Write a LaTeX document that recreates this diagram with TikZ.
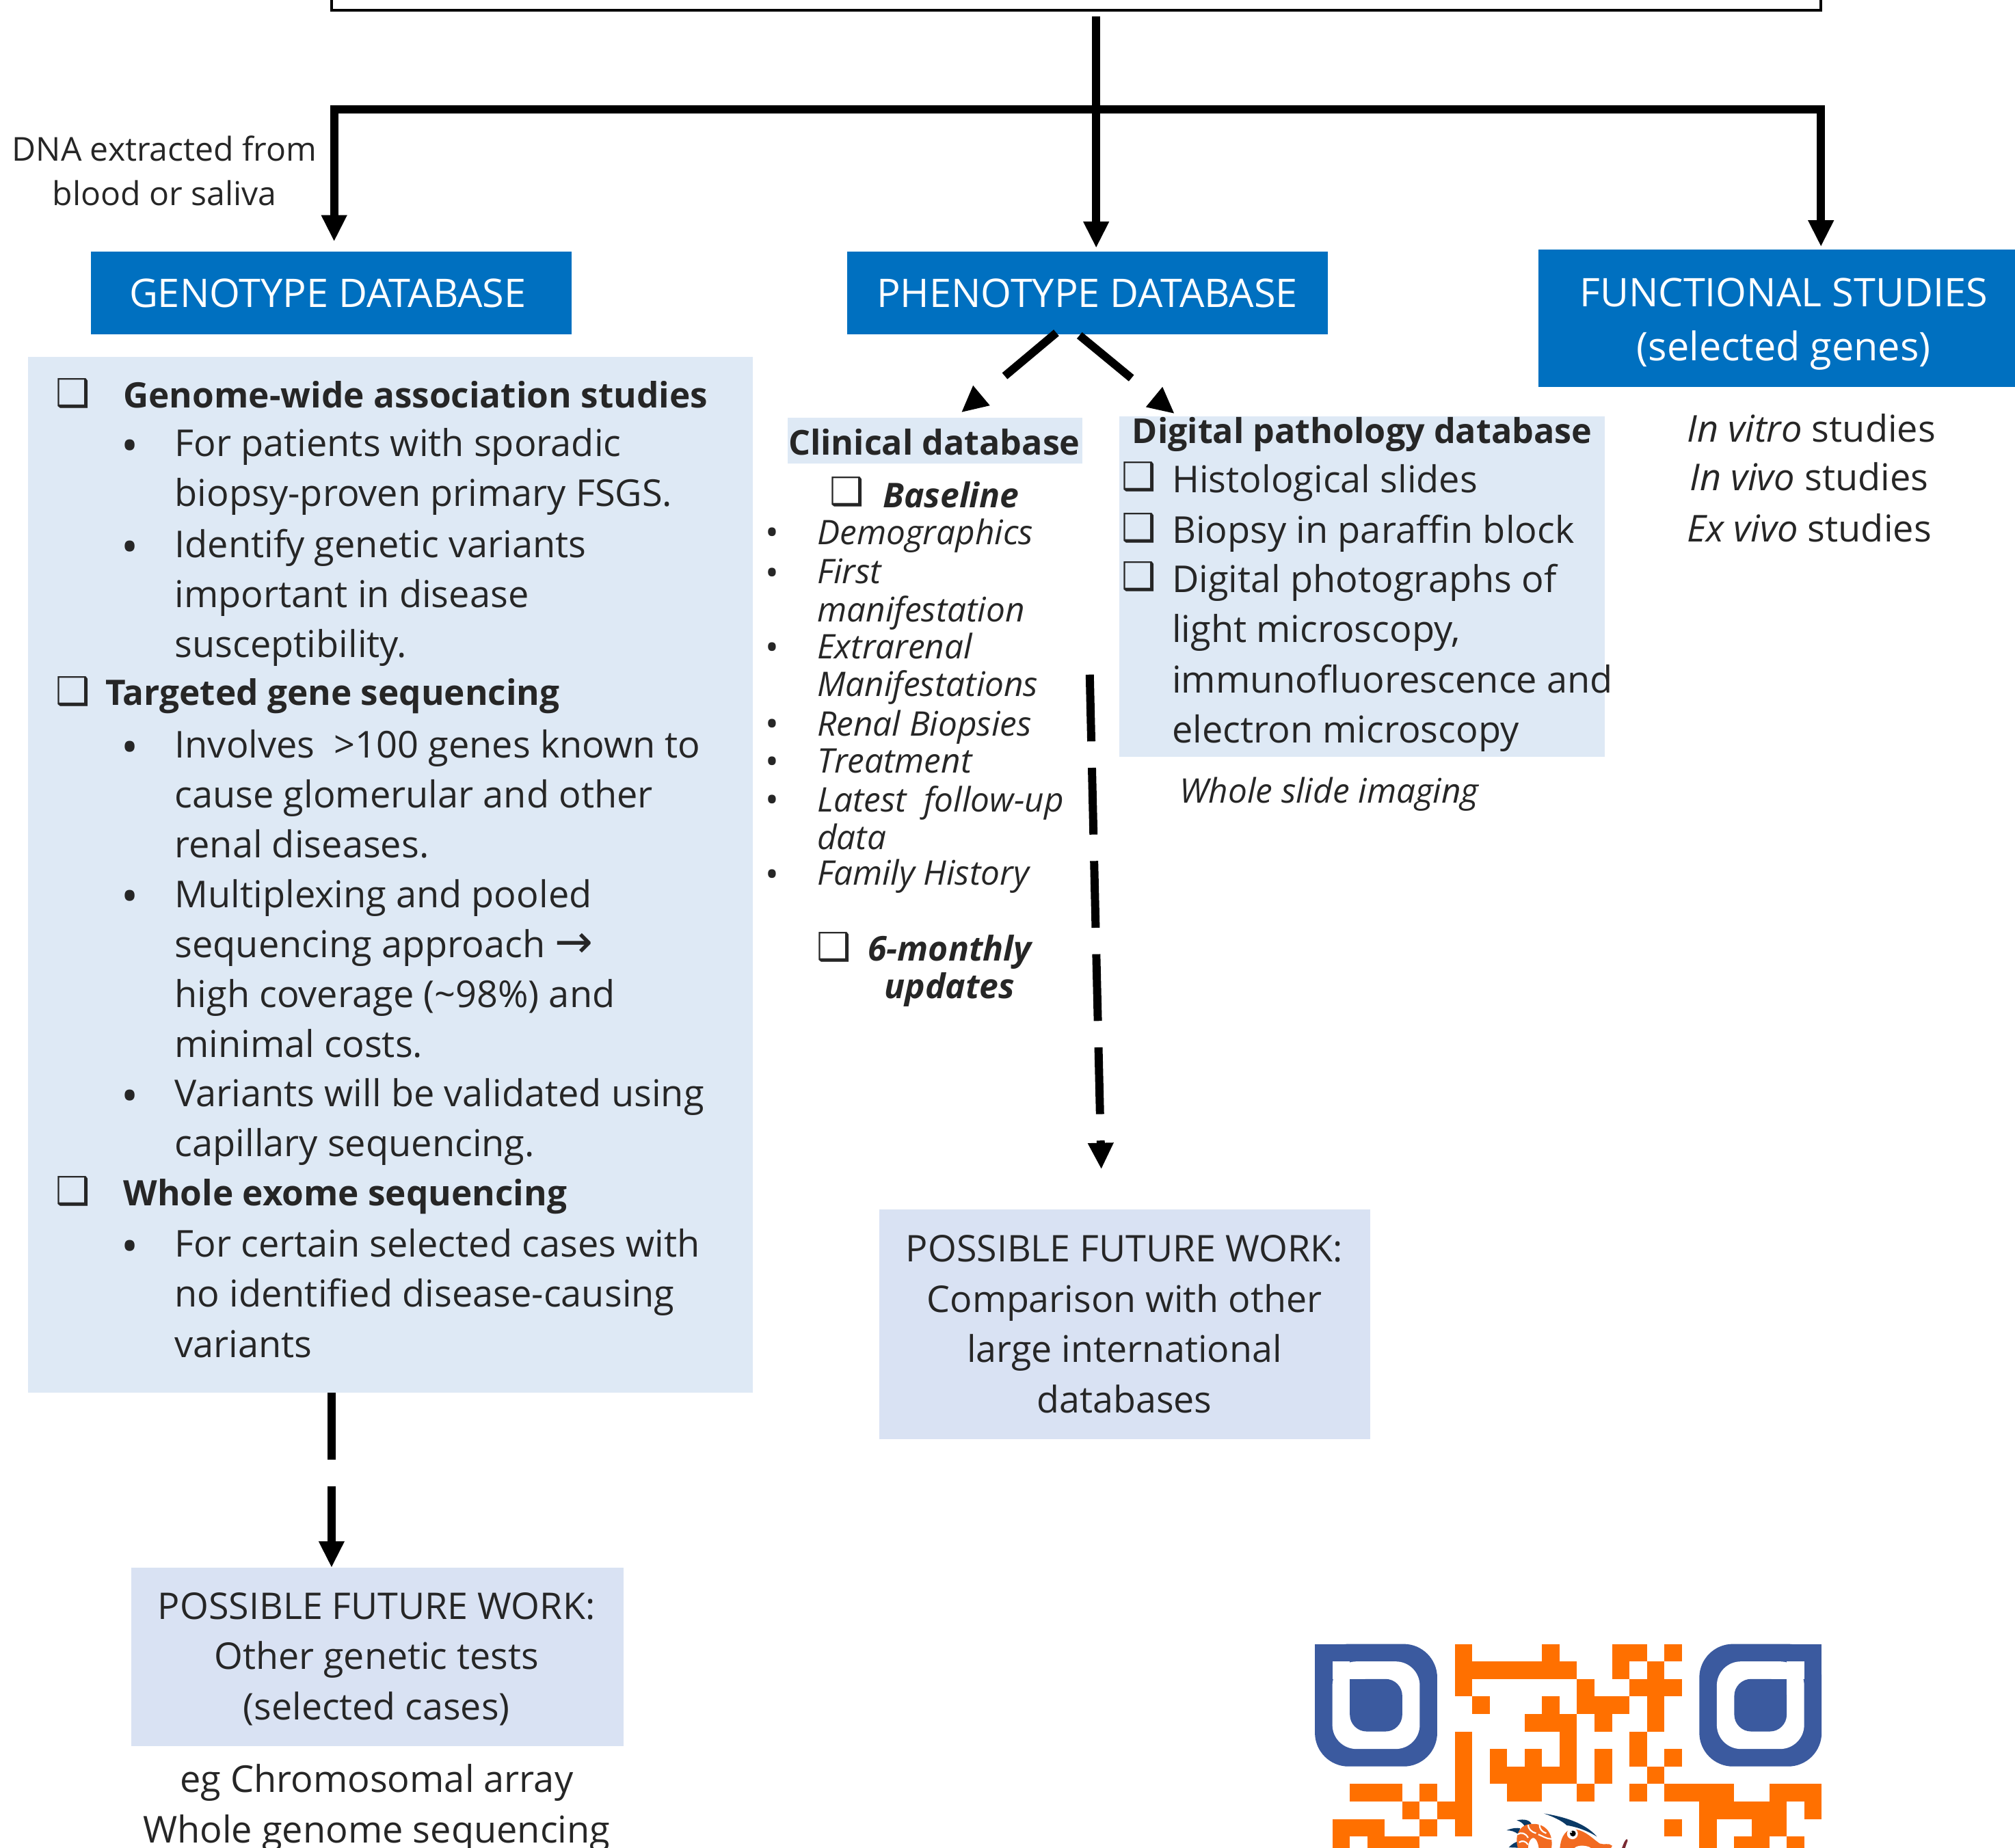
\documentclass[tikz,border=0pt]{standalone}
\usepackage{fontspec}
\setmainfont{Open Sans}
\newfontfamily\symfont{DejaVu Sans}
\usetikzlibrary{arrows.meta,fit,positioning,calc}
\definecolor{dbblue}{HTML}{0070C0}
\definecolor{listblue}{HTML}{DEE9F5}
\definecolor{futureblue}{HTML}{D9E2F3}
\definecolor{qrblue}{HTML}{3B5A9F}
\definecolor{qrorange}{HTML}{FF7000}
\definecolor{dragonbody}{HTML}{F26B21}
\definecolor{dragonnavy}{HTML}{0B3A66}
\definecolor{dragonred}{HTML}{7A2B33}

\begin{document}
\begin{tikzpicture}[x=0.018795cm, y=-0.018795cm, >={Triangle[length=11pt,width=10pt]},
  every node/.style={inner sep=0pt, outer sep=0pt, text=black!85},
  bar/.style={line width=3.4pt},
  dashbar/.style={line width=3.4pt, dash pattern=on 27.8pt off 11pt},
  dbbox/.style={fill=dbblue},
  dbtxt/.style={text=white, align=center, font=\fontsize{16.4}{22.5}\selectfont},
  listbox/.style={fill=listblue},
  futurebox/.style={fill=futureblue},
  futuretxt/.style={align=center, font=\fontsize{15.3}{20.9}\selectfont},
  txt/.style={anchor=west, align=left, font=\fontsize{15.4}{20.8}\selectfont},
  heading/.style={anchor=west, align=left, font=\fontsize{14.6}{20.8}\selectfont\bfseries},
  subhead/.style={font=\fontsize{14.3}{20.8}\selectfont\bfseries},
  small/.style={anchor=west, align=left, font=\fontsize{14.1}{15.8}\selectfont\itshape},
  bul/.style={yshift=-3pt, font=\fontsize{19}{19}\selectfont},
  bulsmall/.style={yshift=-2pt, font=\fontsize{15}{15}\selectfont},
  chk/.style={font=\symfont\bfseries\fontsize{16}{16}\selectfont}]
\useasboundingbox (0,0) rectangle (1568,1438);
\clip (0,0) rectangle (1568,1438);

\node[draw, line width=1.2pt, fit={(258,-40)(1417,8)}] (top) {};
\coordinate (topdrop) at (853,13);
\coordinate (split) at (853,85);

% three databases
\node[dbbox, fit={(71,196)(445,260)}] (geno) {};
\node[dbbox, fit={(659,196)(1033,260)}] (pheno) {};
\node[dbbox, fit={(1197,194)(1568,301)}] (func) {};
\node[dbtxt] (genotxt) at (255,228) {GENOTYPE DATABASE};
\node[dbtxt] (phenotxt) at (846,228) {PHENOTYPE DATABASE};
\node[dbtxt] (functxt) at (1388,252) {FUNCTIONAL STUDIES\\(selected genes)};
\coordinate (genoin) at (260,188);
\coordinate (phenoin) at (853,193);
\coordinate (funcin) at (1417,192);
\draw[bar,->] (topdrop) -- (phenoin);
\draw[bar,->] (split) -| (genoin);
\draw[bar,->] (split) -| (funcin);
\node[align=center, font=\fontsize{13.7}{18.7}\selectfont] (dna) at (128,133) {DNA extracted from\\blood or saliva};

% genotype list
\node[listbox, fit={(22,278)(586,1084)}] (genolist) {};
\node[chk] (gc1) at (57,306) {❑};
\node[chk] (gc2) at (57,538) {❑};
\node[chk] (gc3) at (57,927) {❑};
\node[heading] (g1) at (96,307) {Genome-wide association studies};
\node[txt] (g2) at (136,367) {For patients with sporadic\\biopsy-proven primary FSGS.};
\node[txt] (g3) at (136,465) {Identify genetic variants\\important in disease\\susceptibility.};
\node[heading] (g4) at (82,542) {Targeted gene sequencing};
\node[txt] (g5) at (136,618) {Involves\ \ >100 genes known to\\cause glomerular and other\\renal diseases.};
\node[txt] (g6) at (136,754) {Multiplexing and pooled\\sequencing approach {\symfont\fontsize{19}{20.8}\selectfont →}\\high coverage (\textasciitilde 98\%) and\\minimal costs.};
\node[txt] (g7) at (136,873) {Variants will be validated using\\capillary sequencing.};
\node[heading] (g8) at (96,931) {Whole exome sequencing};
\node[txt] (g9) at (136,1006.5) {For certain selected cases with\\no identified disease-causing\\variants};
\foreach \y [count=\i] in {345,424,580,696,851,968}
  \node[bul] (gb\i) at (101,\y) {•};

% phenotype branches
\node[listbox, fit={(613,325)(842,361)}] (clin) {};
\node[subhead] (clintxt) at (727,344) {Clinical database};
\node[listbox, fit={(871,324)(1249,589)}] (digi) {};
\coordinate (clinout) at (822,259);
\coordinate (clinin) at (748,321);
\coordinate (digiout) at (840,261);
\coordinate (digiin) at (914,322);
\draw[line width=3.4pt, dash pattern=on 28pt off 20pt,->] (clinout) -- (clinin);
\draw[line width=3.4pt, dash pattern=on 28pt off 20pt,->] (digiout) -- (digiin);

\node[chk] (cc1) at (659,383) {❑};
\node[anchor=west, font=\fontsize{14.2}{18}\selectfont\bfseries\itshape] (base) at (687,385) {Baseline};
\node[small] (c1) at (636,417) {Demographics};
\node[small] (c2) at (636,462.5) {First\\manifestation};
\node[small] (c3) at (636,520.5) {Extrarenal\\Manifestations};
\node[small] (c4) at (636,566) {Renal Biopsies};
\node[small] (c5) at (636,592) {Treatment};
\node[small] (c6) at (636,636.5) {Latest\ \ follow-up\\data};
\node[small] (c7) at (636,682) {Family History};
\foreach \y [count=\i] in {414,445,503,563,592,622,680}
  \node[bulsmall] (cb\i) at (601,\y) {•};
\node[chk] (cc2) at (649,737) {❑};
\node[align=center, font=\fontsize{14.2}{15.8}\selectfont\bfseries\itshape] (upd) at (739,755.5) {6-monthly\\updates};

\node[subhead, anchor=west] (d0) at (881,338) {Digital pathology database};
\node[chk] (dc1) at (886,371) {❑};
\node[chk] (dc2) at (886,411) {❑};
\node[chk] (dc3) at (886,449) {❑};
\node[txt] (d1) at (912,376) {Histological slides};
\node[txt] (d2) at (912,415) {Biopsy in paraffin block};
\node[txt] (d3) at (912,512) {Digital photographs of\\light microscopy,\\immunofluorescence and\\electron microscopy};
\node[small] (d4) at (918,618) {Whole slide imaging};

\node[txt] (f1) at (1313,333) {\textit{In vitro} studies};
\node[txt] (f2) at (1315,371) {\textit{In vivo} studies};
\node[txt] (f3) at (1313,411) {\textit{Ex vivo} studies};

% future work
\node[futurebox, fit={(684,941)(1066,1120)}] (fwpheno) {};
\node[futurebox, fit={(102,1220)(485,1359)}] (fwgeno) {};
\node[futuretxt] (fwphenotxt) at (875,1030.5) {POSSIBLE FUTURE WORK:\\Comparison with other\\large international\\databases};
\node[futuretxt] (fwgenotxt) at (293,1291) {POSSIBLE FUTURE WORK:\\Other genetic tests\\(selected cases)};
\node[align=center, font=\fontsize{15.4}{20.8}\selectfont] (eg) at (293,1407) {eg Chromosomal array\\Whole genome sequencing};
\coordinate (dashtop) at (848,525);
\coordinate (dashend) at (857,910);
\draw[dashbar,->] (dashtop) -- (dashend);
\draw[dashbar,->] (genolist.south -| geno.south) -- (geno.south |- fwgeno.north);

% QR code
\begin{scope}[shift={(1023.2,1279.4)}, x=0.25561cm, y=-0.25598cm]
\foreach \c/\k in {0/0,22/1} {
  \fill[qrblue, rounded corners=14pt] (\c,0) rectangle (\c+7,7);
  \fill[qrblue] (\c+\k*5,0) rectangle +(2,2);
  \fill[white, rounded corners=10pt] (\c+1,1) rectangle (\c+6,6);
  \fill[white] (\c+1+\k*4,1) rectangle +(1,1);
  \fill[qrblue, rounded corners=7pt] (\c+2,2) rectangle (\c+5,5);
  \fill[qrblue] (\c+2+\k*2,2) rectangle +(1,1);
}
\foreach \r/\a/\b in {0/8/9,0/13/14,0/17/19,0/20/21,
  1/8/15,1/17/18,1/19/20,
  2/8/9,2/15/16,2/18/21,
  3/9/10,3/13/14,3/15/18,3/19/20,
  4/12/15,4/16/17,4/19/20,
  5/8/9,5/14/15,5/18/19,
  6/8/9,6/10/11,6/12/13,6/14/15,6/16/17,6/18/19,6/20/21,
  7/8/9,7/10/15,7/16/17,7/19/20,
  8/2/5,8/6/7,8/8/9,8/11/13,8/15/16,8/18/19,8/20/24,8/26/29,
  9/5/6,9/7/9,9/22/27,9/28/29,
  10/1/4,10/6/7,10/8/9,10/20/21,10/22/23,10/25/27,
  11/1/2,11/3/6,11/22/23,11/24/26,11/27/28}
  \fill[qrorange] (\a,\r) rectangle (\b,\r+1);
\end{scope}

% dragon in the middle of the code
\begin{scope}[shift={(1159.9,1404.6)}, x=0.003333cm, y=-0.003333cm]
\fill[white] (60,25) rectangle (620,189);
\fill[dragonnavy] (115,68) .. controls (150,60) and (170,68) .. (180,82) -- (150,95) .. controls (145,82) and (130,72) .. cycle;
\fill[dragonnavy] (70,112) .. controls (95,102) and (115,100) .. (130,103) -- (122,130) .. controls (110,118) and (90,112) .. cycle;
\fill[dragonnavy] (80,187) .. controls (95,172) and (110,162) .. (125,160) -- (130,189) -- cycle;
\fill[dragonbody] (120,189) .. controls (105,140) and (125,90) .. (170,85) .. controls (235,75) and (278,120) .. (268,189) -- (212,189) .. controls (208,160) and (195,135) .. (178,150) .. controls (168,160) and (165,178) .. (165,189) -- cycle;
\draw[white, line width=0.6pt] (118,130) .. controls (135,118) and (155,125) .. (165,145)
  (165,88) .. controls (165,105) and (180,120) .. (200,125)
  (215,85) .. controls (215,105) and (225,118) .. (245,125)
  (210,130) .. controls (225,135) and (245,150) .. (268,150)
  (125,165) .. controls (140,155) and (155,160) .. (165,175);
\fill[dragonnavy] (235,38) .. controls (340,55) and (420,85) .. (468,140) .. controls (420,110) and (370,95) .. (335,90) .. controls (315,70) and (270,50) .. cycle;
\fill[dragonbody] (305,189) .. controls (310,135) and (335,100) .. (375,108) .. controls (420,115) and (450,150) .. (480,170) .. controls (500,178) and (520,165) .. (535,180) -- (530,189) -- cycle;
\fill[white] (360,127) circle (24);
\fill[black] (362,126) circle (13);
\fill[white] (355,120) circle (4);
\fill[white] (370,189) .. controls (385,175) and (425,178) .. (440,189) -- cycle;
\fill[dragonred] (578,189) .. controls (585,170) and (590,155) .. (600,150) -- (603,158) .. controls (598,170) and (595,180) .. (592,189) -- cycle;
\end{scope}
\end{tikzpicture}
\end{document}
